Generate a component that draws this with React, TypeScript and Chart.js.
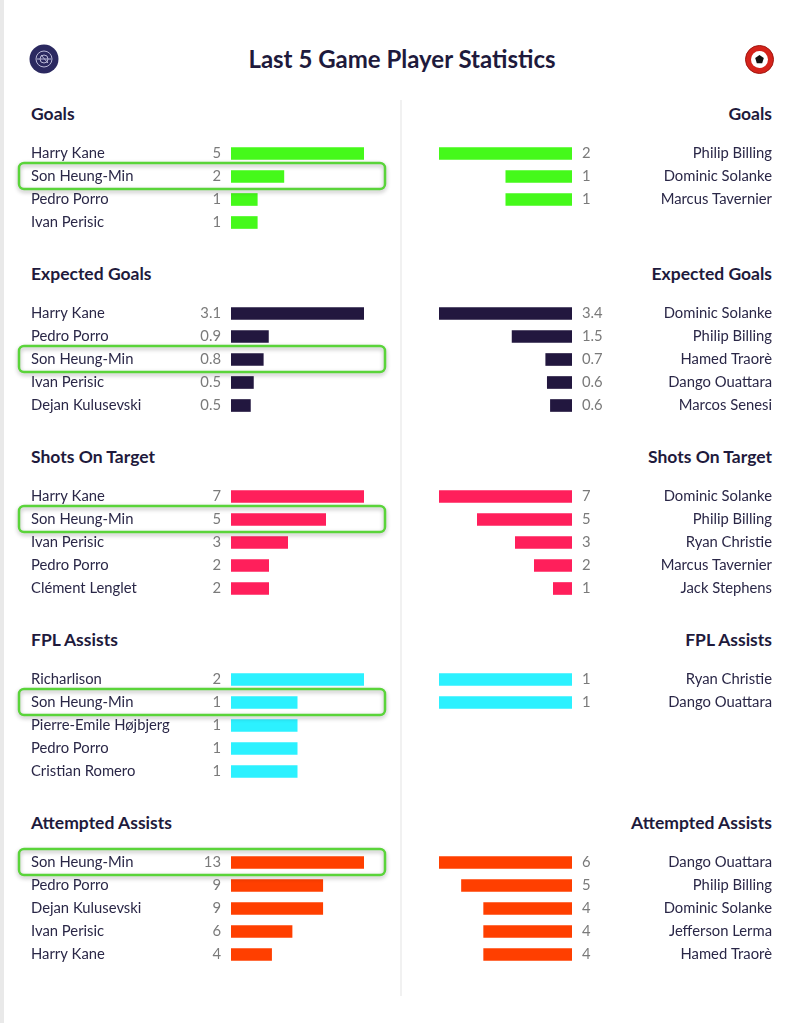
import React, { useEffect, useRef } from "react";
import { Chart, registerables } from "chart.js";
Chart.register(...registerables);

// ---------- data ----------
const chartTitle = "Last 5 Game Player Statistics";
const sectionTitles = ["Goals", "Expected Goals", "Shots On Target", "FPL Assists", "Attempted Assists"];
const sectionColors = ["#45f91a", "#22173f", "#ff1f5b", "#2cf1ff", "#ff3f00"];
const sectionDecimals = [0, 1, 0, 0, 0];
const highlightPlayer = "Son Heung-Min";

const goalsHomePlayers = ["Harry Kane", "Son Heung-Min", "Pedro Porro", "Ivan Perisic"];
const goalsHomeValues = [5, 2, 1, 1];
const goalsAwayPlayers = ["Philip Billing", "Dominic Solanke", "Marcus Tavernier"];
const goalsAwayValues = [2, 1, 1];

const xgHomePlayers = ["Harry Kane", "Pedro Porro", "Son Heung-Min", "Ivan Perisic", "Dejan Kulusevski"];
const xgHomeValues = [3.1, 0.88, 0.76, 0.53, 0.46];
const xgAwayPlayers = ["Dominic Solanke", "Philip Billing", "Hamed Traorè", "Dango Ouattara", "Marcos Senesi"];
const xgAwayValues = [3.4, 1.54, 0.68, 0.64, 0.56];

const sotHomePlayers = ["Harry Kane", "Son Heung-Min", "Ivan Perisic", "Pedro Porro", "Clément Lenglet"];
const sotHomeValues = [7, 5, 3, 2, 2];
const sotAwayPlayers = ["Dominic Solanke", "Philip Billing", "Ryan Christie", "Marcus Tavernier", "Jack Stephens"];
const sotAwayValues = [7, 5, 3, 2, 1];

const fplHomePlayers = ["Richarlison", "Son Heung-Min", "Pierre-Emile Højbjerg", "Pedro Porro", "Cristian Romero"];
const fplHomeValues = [2, 1, 1, 1, 1];
const fplAwayPlayers = ["Ryan Christie", "Dango Ouattara"];
const fplAwayValues = [1, 1];

const aaHomePlayers = ["Son Heung-Min", "Pedro Porro", "Dejan Kulusevski", "Ivan Perisic", "Harry Kane"];
const aaHomeValues = [13, 9, 9, 6, 4];
const aaAwayPlayers = ["Dango Ouattara", "Philip Billing", "Dominic Solanke", "Jefferson Lerma", "Hamed Traorè"];
const aaAwayValues = [6, 5, 4, 4, 4];

const homePlayers = [goalsHomePlayers, xgHomePlayers, sotHomePlayers, fplHomePlayers, aaHomePlayers];
const homeValues = [goalsHomeValues, xgHomeValues, sotHomeValues, fplHomeValues, aaHomeValues];
const awayPlayers = [goalsAwayPlayers, xgAwayPlayers, sotAwayPlayers, fplAwayPlayers, aaAwayPlayers];
const awayValues = [goalsAwayValues, xgAwayValues, sotAwayValues, fplAwayValues, aaAwayValues];

// ---------- layout ----------
const FONT = "Lato, 'Noto Sans', sans-serif";
const ROW = 23;
const PAD = 10;
const FIRST_HEADING_Y = 114;
const HEADING_TO_ROW = 39;
const SECTION_GAP = 29;
const NAVY = "#1e1a3c";

type PanelProps = {
  players: string[];
  values: number[];
  color: string;
  decimals: number;
  side: "home" | "away";
  top: number;
};

function Panel({ players, values, color, decimals, side, top }: PanelProps) {
  const ref = useRef<HTMLCanvasElement | null>(null);
  const h = players.length * ROW + PAD * 2;
  const home = side === "home";
  useEffect(() => {
    if (!ref.current) return;
    const textPlugin = {
      id: "rowText",
      afterDatasetsDraw(chart: any) {
        const ctx = chart.ctx;
        const ys = chart.scales.y;
        ctx.save();
        ctx.textBaseline = "middle";
        players.forEach((name, i) => {
          const y = ys.getPixelForValue(i);
          ctx.font = `14.8px ${FONT}`;
          ctx.fillStyle = "#2a2747";
          ctx.textAlign = home ? "left" : "right";
          ctx.fillText(name, home ? 31 : 372, y - 0.5);
          ctx.fillStyle = "#7a7a7a";
          ctx.textAlign = home ? "right" : "left";
          ctx.fillText(values[i].toFixed(decimals), home ? 221 : 182, y - 0.5);
          if (home && name === highlightPlayer) {
            ctx.save();
            ctx.shadowColor = "rgba(0,0,0,0.3)";
            ctx.shadowBlur = 4;
            ctx.shadowOffsetY = 2;
            ctx.strokeStyle = "#5ad43a";
            ctx.lineWidth = 2.5;
            ctx.beginPath();
            (ctx as any).roundRect(19, y - 13.5, 366, 26, 5);
            ctx.stroke();
            ctx.restore();
          }
        });
        ctx.restore();
      },
    };
    const chart = new Chart(ref.current, {
      type: "bar",
      data: {
        labels: players,
        datasets: [
          {
            data: values,
            backgroundColor: color,
            borderWidth: 0,
            barPercentage: 0.55,
            categoryPercentage: 1,
          },
        ],
      },
      options: {
        indexAxis: "y",
        responsive: false,
        animation: false,
        devicePixelRatio: 1,
        layout: {
          padding: home
            ? { left: 231, right: 36, top: PAD, bottom: PAD }
            : { left: 39, right: 228, top: PAD, bottom: PAD },
        },
        scales: {
          x: { display: false, min: 0, max: Math.max(...values), reverse: !home },
          y: { display: false },
        },
        plugins: { legend: { display: false }, tooltip: { enabled: false } },
      },
      plugins: [textPlugin],
    } as any);
    return () => chart.destroy();
  }, [players, values, color, decimals, side]);
  return (
    <canvas
      ref={ref}
      width={400}
      height={h}
      style={{ position: "absolute", left: home ? 0 : 400, top, width: 400, height: h }}
    />
  );
}

export default function App() {
  const headingYs: number[] = [];
  let y = FIRST_HEADING_Y;
  sectionTitles.forEach((_, i) => {
    headingYs.push(y);
    const n = Math.max(homePlayers[i].length, awayPlayers[i].length);
    y += HEADING_TO_ROW + n * ROW + SECTION_GAP;
  });
  const headingStyle: React.CSSProperties = {
    position: "absolute",
    fontFamily: FONT,
    fontWeight: 700,
    fontSize: 17.5,
    lineHeight: "22px",
    color: NAVY,
    whiteSpace: "nowrap",
  };
  return (
    <div
      style={{
        position: "absolute",
        left: 0,
        top: 0,
        width: 800,
        height: 1023,
        background: "#ffffff",
        overflow: "hidden",
        fontFamily: FONT,
      }}
    >
      <div style={{ position: "absolute", left: 0, top: 0, width: 4, height: 1023, background: "#e9e9e9" }} />
      <div style={{ position: "absolute", left: 400, top: 100, width: 2, height: 896, background: "#f1f1f1" }} />
      <svg style={{ position: "absolute", left: 29, top: 44 }} width={30} height={30} viewBox="0 0 30 30">
        <circle cx={15} cy={15} r={14.5} fill="#2b2960" />
        <circle cx={15} cy={15} r={8} fill="none" stroke="#b9b8d6" strokeWidth={1} />
        <circle cx={15} cy={15} r={4} fill="none" stroke="#b9b8d6" strokeWidth={1} />
        <path d="M8 15 L22 15 M12 11 L19 19" stroke="#b9b8d6" strokeWidth={1} />
      </svg>
      <svg style={{ position: "absolute", left: 745, top: 45 }} width={29} height={29} viewBox="0 0 29 29">
        <circle cx={14.5} cy={14.5} r={14} fill="#d5231b" />
        <circle cx={14.5} cy={14.5} r={14} fill="none" stroke="#a0160f" strokeWidth={1} />
        <circle cx={14.5} cy={14.5} r={8.5} fill="#ffffff" />
        <polygon points="14.5,10 18.8,13.1 17.2,18.2 11.8,18.2 10.2,13.1" fill="#111" />
      </svg>
      <div
        style={{
          position: "absolute",
          left: 2,
          width: 800,
          top: 44,
          textAlign: "center",
          fontSize: 24,
          lineHeight: "30px",
          fontWeight: 700,
          color: NAVY,
        }}
      >
        {chartTitle}
      </div>
      {sectionTitles.map((t, i) => (
        <React.Fragment key={t}>
          <div style={{ ...headingStyle, left: 31, top: headingYs[i] - 11 }}>{t}</div>
          <div style={{ ...headingStyle, right: 28, top: headingYs[i] - 11, textAlign: "right" }}>{t}</div>
          <Panel
            players={homePlayers[i]}
            values={homeValues[i]}
            color={sectionColors[i]}
            decimals={sectionDecimals[i]}
            side="home"
            top={headingYs[i] + HEADING_TO_ROW - ROW / 2 - PAD}
          />
          <Panel
            players={awayPlayers[i]}
            values={awayValues[i]}
            color={sectionColors[i]}
            decimals={sectionDecimals[i]}
            side="away"
            top={headingYs[i] + HEADING_TO_ROW - ROW / 2 - PAD}
          />
        </React.Fragment>
      ))}
    </div>
  );
}
